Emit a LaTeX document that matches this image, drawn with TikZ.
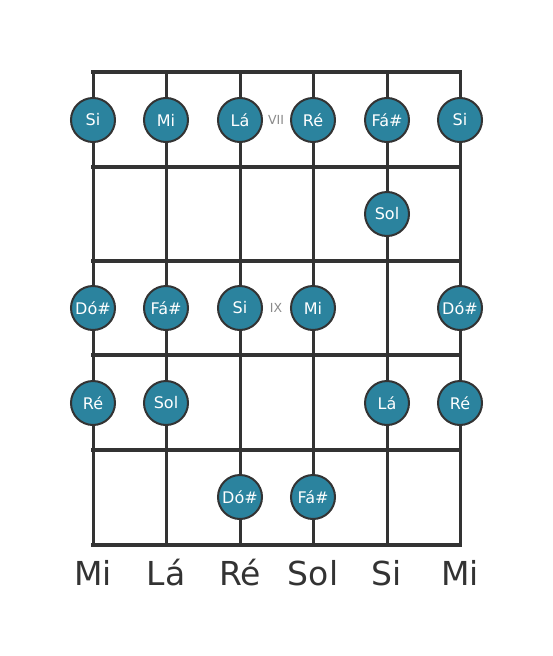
\documentclass[tikz,border=0pt]{standalone}
\usepackage{fontspec}
\setmainfont{DejaVu Sans}
\usetikzlibrary{positioning}
\definecolor{dotfill}{HTML}{2B839E}
\definecolor{linegray}{HTML}{333333}
\definecolor{fretnum}{HTML}{8A8A8A}

\begin{document}
\begin{tikzpicture}[x=1pt,y=-1pt,line cap=rect]
  \tikzstyle{note}=[circle,fill=dotfill,draw=linegray,line width=2pt,
    minimum size=44pt,inner sep=0pt,text=white,
    font=\fontsize{16}{19}\selectfont]
  \tikzstyle{fretline}=[draw=linegray,line width=4.5pt]
  \tikzstyle{stringline}=[draw=linegray,line width=3pt]
  \tikzstyle{tuning}=[text=linegray,font=\fontsize{33}{38}\selectfont]
  \tikzstyle{fretlabel}=[text=fretnum,font=\fontsize{12.5}{15}\selectfont]
  \useasboundingbox (0,0) rectangle (553,656);
  % strings
  \coordinate (s1t) at (93,72);  \coordinate (s1b) at (93,545);
  \coordinate (s2t) at (166,72); \coordinate (s2b) at (166,545);
  \coordinate (s3t) at (240,72); \coordinate (s3b) at (240,545);
  \coordinate (s4t) at (313,72); \coordinate (s4b) at (313,545);
  \coordinate (s5t) at (387,72); \coordinate (s5b) at (387,545);
  \coordinate (s6t) at (460,72); \coordinate (s6b) at (460,545);
  % frets
  \coordinate (f0l) at (93,72);  \coordinate (f0r) at (460,72);
  \coordinate (f1l) at (93,167); \coordinate (f1r) at (460,167);
  \coordinate (f2l) at (93,261); \coordinate (f2r) at (460,261);
  \coordinate (f3l) at (93,355); \coordinate (f3r) at (460,355);
  \coordinate (f4l) at (93,450); \coordinate (f4r) at (460,450);
  \coordinate (f5l) at (93,545); \coordinate (f5r) at (460,545);
  \draw[stringline]
        (s1t) -- (s1b)
        (s2t) -- (s2b)
        (s3t) -- (s3b)
        (s4t) -- (s4b)
        (s5t) -- (s5b)
        (s6t) -- (s6b);
  \draw[fretline]
        (f0l) -- (f0r)
        (f1l) -- (f1r)
        (f2l) -- (f2r)
        (f3l) -- (f3r)
        (f4l) -- (f4r)
        (f5l) -- (f5r);
  % fret 7
  \node[note] (a1) at (93,120) {Si};
  \node[note] (a2) at (166,120) {Mi};
  \node[note] (a3) at (240,120) {Lá};
  \node[note] (a4) at (313,120) {Ré};
  \node[note] (a5) at (387,120) {Fá\#};
  \node[note] (a6) at (460,120) {Si};
  \node[fretlabel] (vii) at (276,120) {VII};
  % fret 8
  \node[note] (b5) at (387,214) {Sol};
  % fret 9
  \node[note] (c1) at (93,308) {Dó\#};
  \node[note] (c2) at (166,308) {Fá\#};
  \node[note] (c3) at (240,308) {Si};
  \node[note] (c4) at (313,308) {Mi};
  \node[note] (c6) at (460,308) {Dó\#};
  \node[fretlabel] (ix) at (276,308) {IX};
  % fret 10
  \node[note] (d1) at (93,403) {Ré};
  \node[note] (d2) at (166,403) {Sol};
  \node[note] (d5) at (387,403) {Lá};
  \node[note] (d6) at (460,403) {Ré};
  % fret 11
  \node[note] (e3) at (240,497) {Dó\#};
  \node[note] (e4) at (313,497) {Fá\#};
  % open strings
  \node[tuning] (t1) at (93,573) {Mi};
  \node[tuning] (t2) at (166,573) {Lá};
  \node[tuning] (t3) at (240,573) {Ré};
  \node[tuning] (t4) at (313,573) {Sol};
  \node[tuning] (t5) at (387,573) {Si};
  \node[tuning] (t6) at (460,573) {Mi};
\end{tikzpicture}
\end{document}
